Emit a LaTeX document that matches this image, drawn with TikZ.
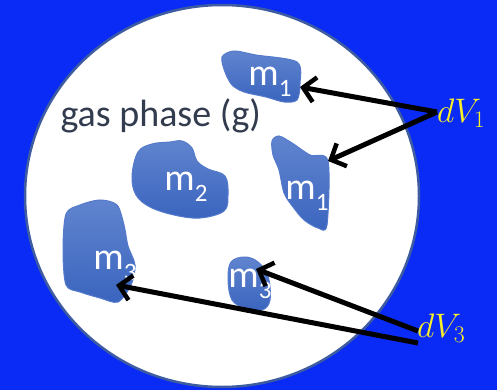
\RequirePackage{fix-cm}
\documentclass[tikz,border=0pt]{standalone}
\usepackage{fontspec}
\setmainfont{Carlito}
\usetikzlibrary{arrows.meta}

\definecolor{bgblue}{RGB}{10,42,245}
\definecolor{rimblue}{RGB}{62,92,160}
\definecolor{blobtop}{RGB}{96,132,206}
\definecolor{blobbot}{RGB}{58,100,190}
\definecolor{blobedge}{RGB}{84,122,204}
\definecolor{slate}{RGB}{50,60,78}
\definecolor{labyellow}{RGB}{250,240,40}

\tikzset{
  blob/.style={top color=blobtop, bottom color=blobbot, draw=blobedge, line width=1pt},
  mass/.style={text=white, font=\fontsize{38}{40}\selectfont, inner sep=0pt},
  vol/.style={text=labyellow, font=\fontsize{34}{36}\selectfont, inner sep=0pt},
  pointer/.style={line width=5pt, -{Straight Barb[length=12pt,width=25pt,line width=4.5pt]}}
}
\newcommand{\mlab}[1]{m\raisebox{-0.28em}{\fontsize{25}{26}\selectfont #1}}

\begin{document}
\begin{tikzpicture}[x=1pt, y=-1pt]
    \useasboundingbox (0,0) rectangle (497,390);
    \fill[bgblue] (0,0) rectangle (497,390);
    \draw[rimblue, line width=2.5pt, fill=white] (222,196) ellipse [x radius=197, y radius=191];
    \node[text=slate, font=\fontsize{38}{40}\selectfont, anchor=west] (gas) at (57,116) {gas phase (g)};
    % the particles
    \draw[blob] plot[smooth cycle, tension=0.5] coordinates {(222,57) (234,51) (256,55) (297,62)
      (300,84) (297,100) (284,102) (266,97) (244,92) (232,85) (225,72)};
    \draw[blob] plot[smooth cycle, tension=0.5] coordinates {(272,141) (279,136) (292,143) (310,155)
      (328,161) (327,225) (318,228) (304,220) (293,207) (284,193) (279,170) (273,155)};
    \draw[blob] plot[smooth cycle, tension=0.6] coordinates {(138,152) (152,144) (170,142) (182,141)
      (192,148) (197,161) (208,169) (225,176) (228,195) (224,211) (200,218) (174,215) (150,207)
      (136,195) (132,176)};
    \draw[blob] plot[smooth cycle, tension=0.5] coordinates {(66,214) (80,205) (100,200) (117,205)
      (124,225) (128,246) (135,265) (131,285) (118,302) (100,298) (80,292) (66,285) (63,250)};
    \draw[blob] plot[smooth cycle, tension=0.6] coordinates {(231,262) (245,257) (258,262) (268,276)
      (270,300) (262,310) (245,308) (232,300) (228,280)};
    \node[mass] (m1a) at (270,82) {\mlab{1}};
    \node[mass] (m1b) at (307,196) {\mlab{1}};
    \node[mass] (m2) at (186,187) {\mlab{2}};
    \node[mass] (m3a) at (115,266) {\mlab{3}};
    \node[mass] (m3b) at (250,284) {\mlab{3}};
    % volume labels
    \node[vol, anchor=west] (dv1) at (437,113) {$dV_1$};
    \node[vol, anchor=west] (dv3) at (417,328) {$dV_3$};
    \coordinate (p1a) at (300,87);
    \coordinate (p1b) at (328,161);
    \coordinate (p3a) at (116,285);
    \coordinate (p3b) at (256,269);
    \coordinate (s1) at (437,112);
    \coordinate (s3a) at (418,331);
    \coordinate (s3b) at (418,343);
    \draw[pointer] (s1) -- (p1a);
    \draw[pointer] (s1) -- (p1b);
    \draw[pointer] (s3a) -- (p3b);
    \draw[pointer] (s3b) -- (p3a);
\end{tikzpicture}
\end{document}
